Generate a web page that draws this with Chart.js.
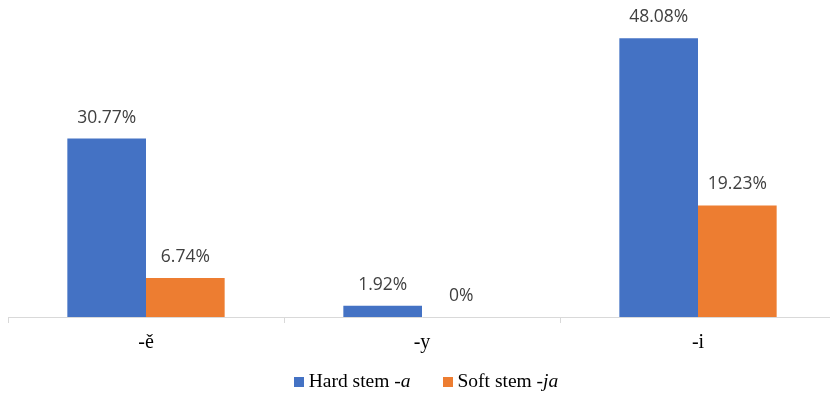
<!DOCTYPE html>
<html>
<head>
<meta charset="utf-8">
<script src="https://cdn.jsdelivr.net/npm/chart.js@4/dist/chart.umd.min.js"></script>
<style>
  html, body { margin: 0; padding: 0; background: #fff; overflow: hidden; width: 830px; height: 396px; }
  #wrap { position: relative; width: 844px; height: 396px; }
  #legend {
    position: absolute; left: 4px; top: 370px; width: 844px;
    display: flex; justify-content: center; gap: 32px;
    font-family: "Liberation Serif", serif; font-size: 19.5px; color: #000;
  }
  #legend .item { display: flex; align-items: center; }
  #legend .sw { width: 10px; height: 10px; margin-right: 5px; margin-top: 2px; }
</style>
</head>
<body>
<div id="wrap">
  <canvas id="c" width="844" height="396"></canvas>
  <div id="legend"></div>
</div>
<script>
// Ending shares per stem type
const categories = ['-ě', '-y', '-i'];
const hardStem = [30.77, 1.92, 48.08];
const softStem = [6.74, 0, 19.23];
const seriesNames = [['Hard stem ', '-a'], ['Soft stem ', '-ja']];
const seriesColors = ['#4472C4', '#ED7D31'];

// Percentage labels above each bar
const valueLabels = {
  id: 'valueLabels',
  afterDatasetsDraw(chart) {
    const ctx = chart.ctx;
    ctx.save();
    ctx.font = '17.5px "Open Sans", sans-serif';
    ctx.fillStyle = '#404040';
    ctx.textAlign = 'center';
    ctx.textBaseline = 'middle';
    chart.data.datasets.forEach((ds, i) => {
      chart.getDatasetMeta(i).data.forEach((bar, j) => {
        ctx.fillText(String(ds.data[j]) + '%', bar.x, bar.y - 21);
      });
    });
    ctx.restore();
  }
};

const chart = new Chart(document.getElementById('c'), {
  type: 'bar',
  data: {
    labels: categories,
    datasets: [
      { label: seriesNames[0].join(''), data: hardStem, backgroundColor: seriesColors[0] },
      { label: seriesNames[1].join(''), data: softStem, backgroundColor: seriesColors[1] }
    ]
  },
  options: {
    responsive: false,
    animation: false,
    categoryPercentage: 0.57,
    barPercentage: 1.0,
    layout: { padding: { left: 8, right: 8, top: 27, bottom: 0 } },
    plugins: { legend: { display: false }, tooltip: { enabled: false } },
    scales: {
      y: { display: false, min: 0, max: 50 },
      x: {
        afterFit(scale) { scale.height = 79; },
        border: { color: '#d9d9d9', width: 1 },
        grid: { drawOnChartArea: false, color: '#d9d9d9', tickLength: 6, offset: true },
        ticks: {
          color: '#000',
          padding: 8,
          font: { family: '"Liberation Serif", serif', size: 20 }
        }
      }
    }
  },
  plugins: [valueLabels]
});

// Legend with italic ending markers
const legend = document.getElementById('legend');
seriesNames.forEach((name, i) => {
  const item = document.createElement('div');
  item.className = 'item';
  const sw = document.createElement('span');
  sw.className = 'sw';
  sw.style.background = seriesColors[i];
  const txt = document.createElement('span');
  txt.appendChild(document.createTextNode(name[0]));
  const it = document.createElement('i');
  it.textContent = name[1];
  txt.appendChild(it);
  item.appendChild(sw);
  item.appendChild(txt);
  legend.appendChild(item);
});
</script>
</body>
</html>
